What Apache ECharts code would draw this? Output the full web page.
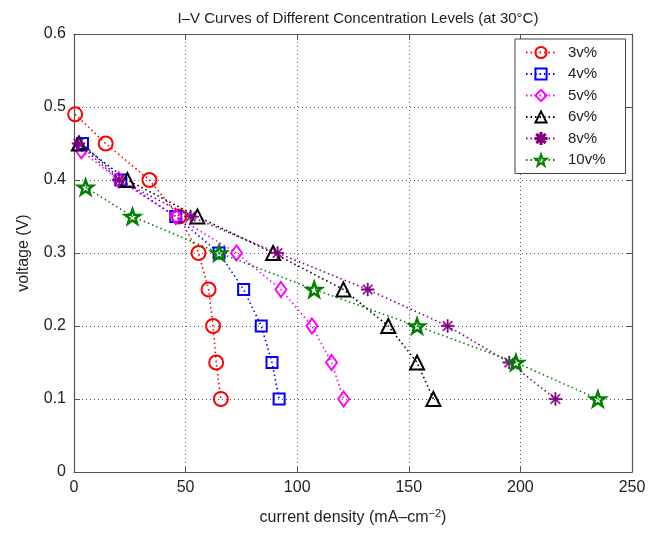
<!DOCTYPE html>
<html>
<head>
<meta charset="utf-8">
<script src="https://cdn.jsdelivr.net/npm/echarts@6/dist/echarts.min.js"></script>
<style>
  html, body { margin: 0; padding: 0; background: #fff; }
  #chart { width: 661px; height: 539px; }
</style>
</head>
<body>
<div id="chart"></div>
<script>
// current density (mA/cm2) vs voltage (V)
const names = ["3v%", "4v%", "5v%", "6v%", "8v%", "10v%"];
const v3 = [0.49, 0.45, 0.40, 0.35, 0.30, 0.25, 0.20, 0.15, 0.10];
const i3 = [0.5, 14.2, 33.8, 47.1, 55.8, 60.3, 62.3, 63.7, 65.8];
const v4 = [0.45, 0.40, 0.35, 0.30, 0.25, 0.20, 0.15, 0.10];
const i4 = [3.8, 21.0, 45.6, 65.0, 76.0, 83.9, 88.7, 91.9];
const v5 = [0.44, 0.40, 0.35, 0.30, 0.25, 0.20, 0.15, 0.10];
const i5 = [3.3, 20.0, 45.6, 72.8, 92.7, 106.6, 115.4, 120.8];
const v6 = [0.45, 0.40, 0.35, 0.30, 0.25, 0.20, 0.15, 0.10];
const i6 = [2.2, 23.9, 55.3, 89.2, 120.7, 140.8, 153.7, 161.0];
const v8 = [0.45, 0.40, 0.35, 0.30, 0.25, 0.20, 0.15, 0.10];
const i8 = [2.0, 20.2, 52.3, 91.2, 131.6, 167.4, 195.0, 215.7];
const v10 = [0.39, 0.35, 0.30, 0.25, 0.20, 0.15, 0.10];
const i10 = [5.2, 26.2, 65.0, 107.6, 153.7, 198.0, 234.7];

const colors = ["#ff0000", "#0000ff", "#ff00ff", "#000000", "#800080", "#008000"];

const asterisk = "path://M-1,-10L1,-10L1,10L-1,10Z M-10,-1L10,-1L10,1L-10,1Z " +
  "M-7.8,-6.4L-6.4,-7.8L7.8,6.4L6.4,7.8Z M6.4,-7.8L7.8,-6.4L-6.4,7.8L-7.8,6.4Z";
const star = "path://M0,-10L2.35,-3.24L9.51,-3.09L3.8,1.24L5.88,8.09L0,4L-5.88,8.09L-3.8,1.24L-9.51,-3.09L-2.35,-3.24Z";

const xs = [i3, i4, i5, i6, i8, i10];
const ys = [v3, v4, v5, v6, v8, v10];
const symbols = ["circle", "rect", "diamond", "triangle", asterisk, star];
const sizes = [14, 11, [11, 15], 14, 13, 15];

const font = "'Liberation Sans', Arial, sans-serif";

const series = names.map((n, k) => {
  const hollow = k !== 4;
  return {
    name: n,
    type: "line",
    data: xs[k].map((x, j) => [x, ys[k][j]]),
    symbol: symbols[k],
    symbolSize: sizes[k],
    symbolKeepAspect: true,
    showAllSymbol: true,
    lineStyle: { color: colors[k], width: 1.6, type: [1.5, 3] },
    itemStyle: {
      color: hollow ? "rgba(0,0,0,0)" : colors[k],
      borderColor: colors[k],
      borderWidth: hollow ? (k === 5 ? 2.5 : 2) : 0.5,
      opacity: 1,
    },
    emphasis: { disabled: true },
    z: 3 + k,
  };
});

const axisLine = { show: true, onZero: false, lineStyle: { color: "#555", width: 1.2 } };
const tickIn = { show: true, inside: true, length: 6, lineStyle: { color: "#555" } };

const chart = echarts.init(document.getElementById("chart"), null, { renderer: "canvas" });
chart.setOption({
  animation: false,
  backgroundColor: "#fff",
  textStyle: { fontFamily: font },
  title: {
    text: "I–V Curves of Different Concentration Levels (at 30°C)",
    left: 353,
    textAlign: "center",
    top: 6,
    textStyle: { fontFamily: font, fontSize: 15, fontWeight: "normal", color: "#222" },
  },
  grid: { left: 74, right: 29, top: 34, bottom: 67 },
  legend: {
    orient: "vertical",
    left: 515,
    top: 39,
    width: 110,
    padding: [6, 20, 6, 10],
    itemWidth: 30,
    itemHeight: 14,
    itemGap: 6.5,
    backgroundColor: "#fff",
    borderColor: "#444",
    borderWidth: 1,
    textStyle: { fontFamily: font, fontSize: 15, color: "#222", padding: [0, 0, 0, 7] },
    data: names,
  },
  xAxis: [
    {
      type: "value", min: 0, max: 250, interval: 50,
      axisLine, axisTick: tickIn,
      axisLabel: { fontFamily: font, fontSize: 16, color: "#222", margin: 8 },
      splitLine: { show: true, lineStyle: { color: "#555", type: [1, 3], width: 1 } },
      name: "current density (mA–cm{sup|−2})",
      nameLocation: "middle",
      nameGap: 36,
      nameTextStyle: {
        fontFamily: font, fontSize: 16, color: "#222",
        rich: { sup: { fontFamily: font, fontSize: 11, color: "#222", verticalAlign: "top", padding: [0, 0, 8, 0] } },
      },
    },
    {
      type: "value", position: "top", min: 0, max: 250, interval: 50,
      axisLine, axisTick: tickIn, axisLabel: { show: false }, splitLine: { show: false },
    },
  ],
  yAxis: [
    {
      type: "value", min: 0, max: 0.6, interval: 0.1,
      axisLine, axisTick: tickIn,
      axisLabel: { fontFamily: font, fontSize: 16, color: "#222", margin: 8 },
      splitLine: { show: true, lineStyle: { color: "#555", type: [1, 3], width: 1 } },
      name: "voltage (V)",
      nameLocation: "middle",
      nameGap: 42,
      nameTextStyle: { fontFamily: font, fontSize: 16, color: "#222" },
    },
    {
      type: "value", position: "right", min: 0, max: 0.6, interval: 0.1,
      axisLine, axisTick: tickIn, axisLabel: { show: false }, splitLine: { show: false },
    },
  ],
  series,
});
</script>
</body>
</html>
